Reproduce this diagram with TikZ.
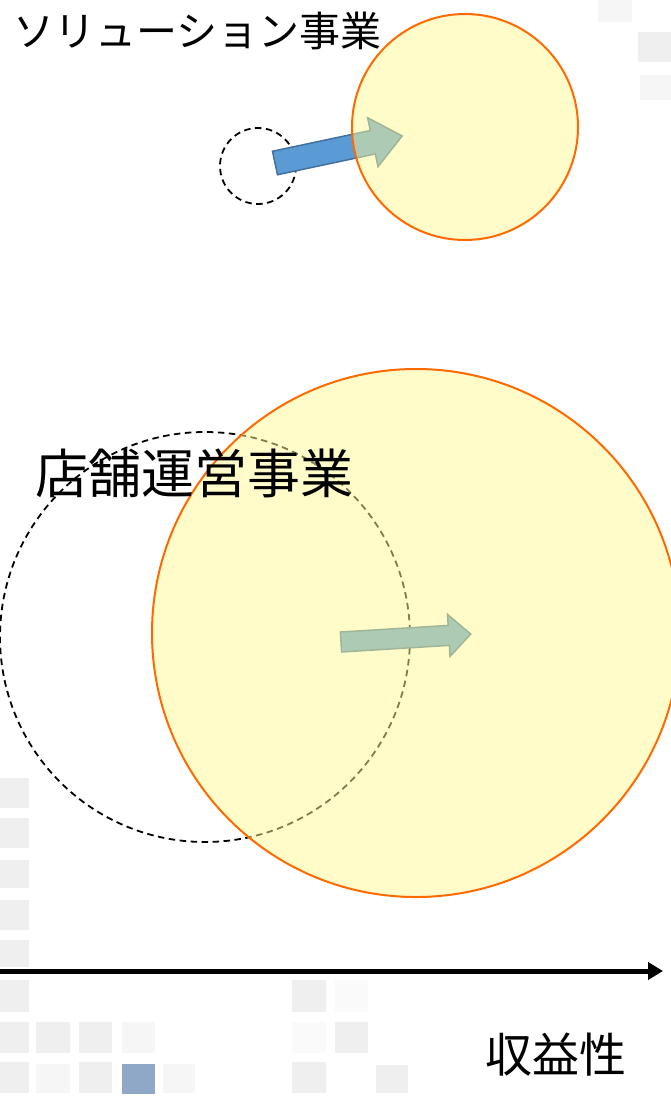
\documentclass[tikz,border=0pt]{standalone}
\usepackage{fontspec}
\newfontfamily\jp{Noto Sans CJK JP}
\usetikzlibrary{arrows.meta}
\definecolor{bgsq}{RGB}{239,239,239}
\definecolor{bgsqf}{RGB}{246,246,246}
\definecolor{bluesq}{RGB}{143,168,200}
\definecolor{arrblue}{RGB}{91,155,213}
\definecolor{arrborder}{RGB}{65,113,156}
\definecolor{circfill}{RGB}{255,250,150}
\definecolor{circline}{RGB}{255,106,0}
\tikzset{
  sq/.style={fill=bgsq,draw=none},
  sqf/.style={fill=bgsqf,draw=none},
  oldpos/.style={draw=black,line width=1.8pt,dash pattern=on 6.5pt off 4.5pt},
  newpos/.style={fill=circfill,fill opacity=0.5,draw=circline,draw opacity=1,line width=2pt},
  movearrow/.style={fill=arrblue,draw=arrborder,line width=1.5pt,line join=miter},
  label/.style={anchor=base west,inner sep=0,text=black},
}
\begin{document}
\begin{tikzpicture}[x=1pt,y=-1pt]
\useasboundingbox (0,0) rectangle (671,1102);
\fill[white] (0,0) rectangle (671,1102);
% background squares
\foreach \y/\h in {778/808,818/848,860/888,900/930,940/967,980/1012,1022/1053,1062/1093}
  \fill[sq] (0,\y) rectangle (29,\h);
\fill[sq] (36,1022) rectangle (70,1053);
\fill[sq] (79,1022) rectangle (112,1053);
\fill[sqf] (122,1022) rectangle (155,1053);
\fill[sqf] (36,1064) rectangle (70,1093);
\fill[sq] (79,1062) rectangle (112,1093);
\fill[bluesq] (122,1064) rectangle (155,1094);
\fill[sqf] (163,1064) rectangle (195,1093);
\fill[sq] (292,980) rectangle (326,1012);
\fill[bgsqf!50!white] (335,980) rectangle (368,1012);
\fill[bgsqf!50!white] (292,1022) rectangle (326,1053);
\fill[sq] (335,1022) rectangle (368,1053);
\fill[sq] (292,1062) rectangle (326,1093);
\fill[sq] (376,1065) rectangle (408,1093);
\fill[sqf] (598,0) rectangle (632,22);
\fill[sq] (638,32) rectangle (671,62);
\fill[sqf] (640,75) rectangle (671,100);
% old positions (dashed)
\draw[oldpos] (258,166) circle[radius=38];
\draw[oldpos] (205,637) circle[radius=205];
% movement arrows
\begin{scope}[shift={(275,163)},rotate=12]
  \draw[movearrow] (0,-12) -- (100,-12) -- (100,-25) -- (130,0) -- (100,25) -- (100,12) -- (0,12) -- cycle;
\end{scope}
\begin{scope}[shift={(341,642)},rotate=3.5]
  \draw[movearrow] (0,-10) -- (108,-10) -- (108,-21) -- (130,0) -- (108,21) -- (108,10) -- (0,10) -- cycle;
\end{scope}
% new positions
\draw[newpos] (465,127) circle[radius=113];
\draw[newpos] (416,633) circle[radius=264];
% axis
\coordinate (axs) at (0,971);
\coordinate (axe) at (663,971);
\draw[line width=5pt,-{Triangle[length=15pt,width=17pt]}] (axs) -- (axe);
% labels
\node[label,font=\jp\fontsize{41}{41}\selectfont] (sol) at (13,47) {ソリューション事業};
\node[label,font=\jp\fontsize{53}{53}\selectfont] (shop) at (35,493) {店舗運営事業};
\node[label,font=\jp\fontsize{47}{47}\selectfont] (prof) at (485,1072) {収益性};
\end{tikzpicture}
\end{document}
